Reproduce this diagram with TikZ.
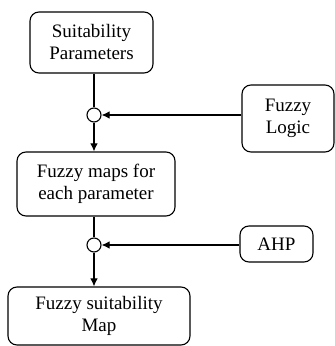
\documentclass[tikz,border=0pt]{standalone}
\usepackage{fontspec}
\setmainfont{Liberation Serif}
\usetikzlibrary{arrows.meta}
\begin{document}
\begin{tikzpicture}[x=1pt,y=1pt,
  blk/.style={draw, line width=1.1pt, rounded corners=9pt, align=center,
    inner sep=0pt, font=\fontsize{19}{22}\selectfont},
  joint/.style={draw, circle, line width=1.1pt, minimum size=14pt, inner sep=0pt, fill=white},
  link/.style={line width=1.1pt},
  flow/.style={line width=1.1pt, -{Latex[length=8pt,width=7.5pt]}}]
\useasboundingbox (0,0) rectangle (335,346);
% main column of blocks
\node[blk, minimum width=123pt, minimum height=61pt] (sp) at (91.5,303.5) {Suitability\\Parameters};
\node[blk, minimum width=158pt, minimum height=64pt] (fm) at (96,162) {Fuzzy maps for\\each parameter};
\node[blk, minimum width=182pt, minimum height=58pt] (fs) at (99,30) {Fuzzy suitability\\Map};
% side inputs
\node[blk, minimum width=92pt, minimum height=67pt] (fl) at (288,227.5) {Fuzzy\\Logic};
\node[blk, minimum width=73pt, minimum height=36pt] (ahp) at (276.5,102) {AHP};
% combination points
\node[joint] (j1) at (94,231) {};
\node[joint] (j2) at (94,101) {};
% connectors
\draw[link] (sp.south -| j1) -- (j1.north);
\draw[flow] (j1.south) -- (fm.north -| j1);
\draw[flow] (fl.west |- j1) -- (j1.east);
\draw[link] (fm.south -| j2) -- (j2.north);
\draw[flow] (j2.south) -- (fs.north -| j2);
\draw[flow] (ahp.west |- j2) -- (j2.east);
\end{tikzpicture}
\end{document}
